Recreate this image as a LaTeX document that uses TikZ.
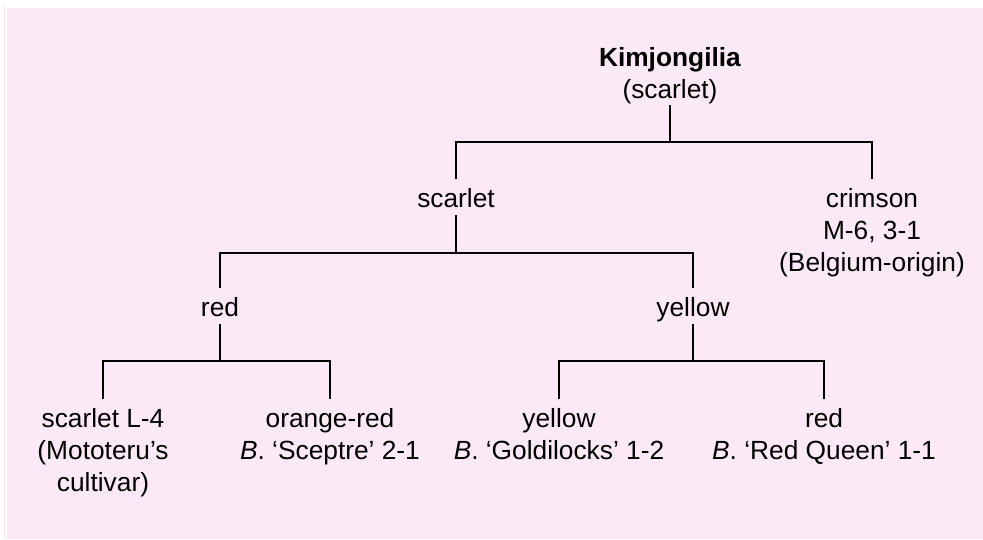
\documentclass[tikz,border=0pt]{standalone}
\usepackage{fontspec}
\setmainfont{Liberation Sans}
\definecolor{bgpink}{RGB}{251,234,245}
\definecolor{edgepink}{RGB}{246,222,238}
\newcommand\lstrut{\rule[-6pt]{0pt}{26pt}}
\begin{document}
\begin{tikzpicture}[x=1pt,y=-1pt,
  lbl/.style={align=center, inner sep=0pt, anchor=north, font=\fontsize{26.3}{32}\selectfont},
  conn/.style={line width=2.3pt, line join=miter, draw=black}]
\useasboundingbox (0,0) rectangle (983,539);
\fill[bgpink] (7,8) rectangle (983,539);
\fill[edgepink] (4,6) rectangle (5,539);

% nodes
\node[lbl] (root) at (670,46) {\lstrut\textbf{Kimjongilia}\\(scarlet)\lstrut};
\node[lbl] (sc)   at (456,187) {\lstrut scarlet\lstrut};
\node[lbl] (cr)   at (872,187) {\lstrut crimson\\M-6, 3-1\\(Belgium-origin)\lstrut};
\node[lbl] (red)  at (220,296) {\lstrut red\lstrut};
\node[lbl] (yel)  at (693,296) {\lstrut yellow\lstrut};
\node[lbl] (s4)   at (103,407) {\lstrut scarlet L-4\\(Mototeru’s\\cultivar)\lstrut};
\node[lbl] (orr)  at (330,407) {\lstrut orange-red\\\textit{B}. ‘Sceptre’ 2-1\lstrut};
\node[lbl] (go)   at (559,407) {\lstrut yellow\\\textit{B}. ‘Goldilocks’ 1-2\lstrut};
\node[lbl] (rq)   at (824,407) {\lstrut red\\\textit{B}. ‘Red Queen’ 1-1\lstrut};

% junctions
\coordinate (j1) at (670,142);
\coordinate (j2) at (456,253);
\coordinate (j3) at (220,361);
\coordinate (j4) at (693,361);

% connectors
\draw[conn, shorten <=1pt] (root.south) -- (j1);
\draw[conn, shorten <=8pt, shorten >=8pt] (sc.north) |- (j1) -| (cr.north);
\draw[conn, shorten <=2pt] (sc.south) -- (j2);
\draw[conn, shorten <=8pt, shorten >=8pt] (red.north) |- (j2) -| (yel.north);
\draw[conn, shorten <=2pt] (red.south) -- (j3);
\draw[conn, shorten <=8pt, shorten >=8pt] (s4.north) |- (j3) -| (orr.north);
\draw[conn, shorten <=2pt] (yel.south) -- (j4);
\draw[conn, shorten <=8pt, shorten >=8pt] (go.north) |- (j4) -| (rq.north);
\end{tikzpicture}
\end{document}
